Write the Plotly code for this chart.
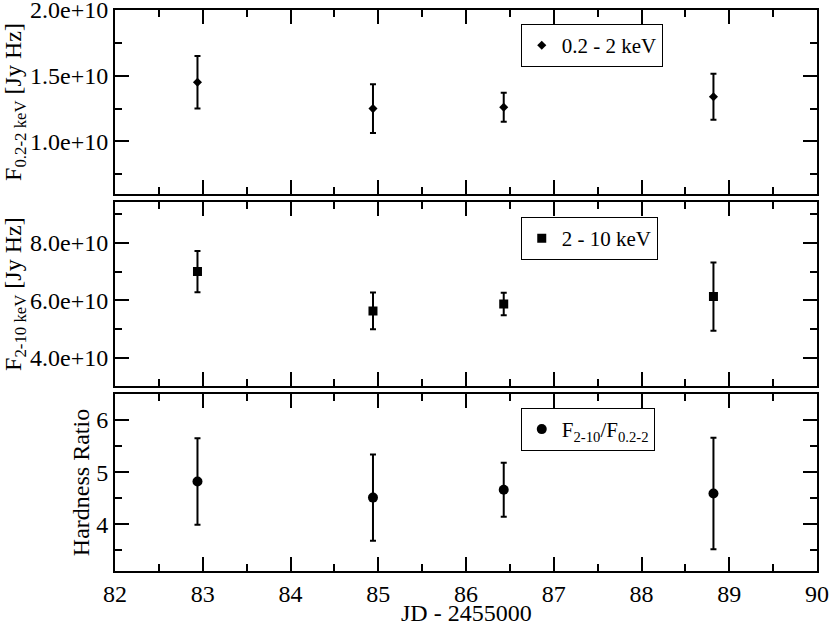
import plotly.graph_objects as go
from plotly.subplots import make_subplots

# JD - 2455000 of each observation
jd = [82.94, 84.94, 86.43, 88.82]

# soft band flux 0.2-2 keV [Jy Hz]
soft_flux = [1.45e10, 1.25e10, 1.26e10, 1.34e10]
soft_err = [0.20e10, 0.185e10, 0.11e10, 0.175e10]

# hard band flux 2-10 keV [Jy Hz]
hard_flux = [7.0e10, 5.63e10, 5.87e10, 6.13e10]
hard_err = [0.72e10, 0.64e10, 0.39e10, 1.19e10]

# hardness ratio F2-10 / F0.2-2
ratio = [4.82, 4.51, 4.66, 4.59]
ratio_err = [0.83, 0.83, 0.52, 1.07]

FONT = "Liberation Serif"

fig = make_subplots(rows=3, cols=1, shared_xaxes=True)


def err(vals):
    return dict(type="data", array=vals, visible=True,
                color="black", thickness=2, width=3)


fig.add_trace(go.Scatter(
    x=jd, y=soft_flux, mode="markers", name="0.2 - 2 keV",
    marker=dict(symbol="diamond", size=7, color="black"),
    error_y=err(soft_err), legend="legend", showlegend=True,
), row=1, col=1)

fig.add_trace(go.Scatter(
    x=jd, y=hard_flux, mode="markers", name="2 - 10 keV",
    marker=dict(symbol="square", size=9, color="black"),
    error_y=err(hard_err), legend="legend2", showlegend=True,
), row=2, col=1)

fig.add_trace(go.Scatter(
    x=jd, y=ratio, mode="markers", name="F<sub>2-10</sub>/F<sub>0.2-2</sub>",
    marker=dict(symbol="circle", size=10, color="black"),
    error_y=err(ratio_err), legend="legend3", showlegend=True,
), row=3, col=1)

axis_style = dict(
    showline=True, linecolor="black", linewidth=2, mirror="allticks",
    ticks="inside", ticklen=14, tickwidth=2, tickcolor="black",
    showgrid=False, zeroline=False, automargin=False,
    ticklabeloverflow="allow",
    tickfont=dict(family=FONT, size=24, color="black"),
)

# shared x axis, labels only on the bottom panel
for r in (1, 2, 3):
    fig.update_xaxes(
        range=[82, 90], dtick=1, tick0=82,
        minor=dict(ticks="inside", ticklen=7, tickwidth=2, tickcolor="black", dtick=0.5),
        showticklabels=(r == 3), row=r, col=1, **axis_style,
    )

fig.update_yaxes(
    range=[0.6e10, 2.0001e10], dtick=0.5e10, tick0=0, tickformat=".1e",
    minor=dict(ticks="inside", ticklen=7, tickwidth=2, tickcolor="black", dtick=0.25e10),
    title=dict(text="F<sub>0.2-2 keV</sub> [Jy Hz]", font=dict(family=FONT, size=24, color="black"), standoff=0),
    row=1, col=1, **axis_style,
)
fig.update_yaxes(
    range=[3.0e10, 9.43e10], dtick=2e10, tick0=0, tickformat=".1e",
    minor=dict(ticks="inside", ticklen=7, tickwidth=2, tickcolor="black", dtick=1e10),
    title=dict(text="F<sub>2-10 keV</sub> [Jy Hz]", font=dict(family=FONT, size=24, color="black"), standoff=0),
    row=2, col=1, **axis_style,
)
fig.update_yaxes(
    range=[3.1, 6.5], dtick=1, tick0=0,
    minor=dict(ticks="inside", ticklen=7, tickwidth=2, tickcolor="black", dtick=0.5),
    title=dict(text="Hardness Ratio", font=dict(family=FONT, size=24, color="black"), standoff=0),
    row=3, col=1, **axis_style,
)

# x axis title, placed just under the tick labels
fig.add_annotation(
    text="JD - 2455000", xref="paper", yref="paper", x=0.5, y=0,
    xanchor="center", yanchor="top", yshift=-27, showarrow=False,
    font=dict(family=FONT, size=24, color="black"),
)

legend_style = dict(
    bgcolor="white", bordercolor="black", borderwidth=1,
    font=dict(family=FONT, size=21, color="black"),
    xanchor="left", yanchor="top", x=0.578,
)

fig.update_layout(
    width=830, height=623,
    showlegend=True,
    paper_bgcolor="white", plot_bgcolor="white",
    margin=dict(l=115, r=13, t=10, b=52),
    font=dict(family=FONT, color="black"),
    yaxis=dict(domain=[0.672, 1.0]),
    yaxis2=dict(domain=[0.329, 0.658]),
    yaxis3=dict(domain=[0.0, 0.3155]),
    legend=dict(y=0.975, **legend_style),
    legend2=dict(y=0.631, **legend_style),
    legend3=dict(y=0.2906, **legend_style),
)

# drop the default page margin so the 830x623 figure fills the window
fig.write_html("out.html", config={"displayModeBar": False},
               post_script="document.body.style.margin='0';")
